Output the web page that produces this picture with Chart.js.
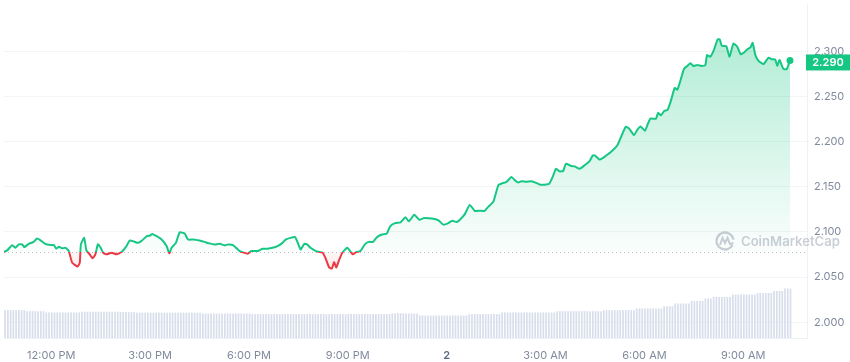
<!DOCTYPE html>
<html>
<head>
<meta charset="utf-8">
<script src="https://cdn.jsdelivr.net/npm/chart.js@4.4.1/dist/chart.umd.min.js"></script>
<style>
  html, body { margin: 0; padding: 0; background: #ffffff; }
  #wrap { width: 850px; height: 362px; position: relative; }
</style>
</head>
<body>
<div id="wrap"><canvas id="priceChart"></canvas></div>
<script>
// minutes after 12:00 PM (day 1)
const times = [
  -86, -80, -71, -65, -59, -53, -49, -41, -32, -26, -20, -11, -1, 5, 9, 14, 20, 26, 32, 38,
  48, 52, 54, 60, 64, 70, 75, 80, 85, 89, 95, 101, 110, 119, 128, 136, 143, 149, 157, 164,
  174, 180, 184, 192, 201, 210, 215, 219, 227, 234, 243, 249, 258, 270, 279, 288, 297, 307, 316, 322,
  331, 343, 358, 364, 376, 385, 394, 403, 412, 421, 427, 444, 454, 461, 466, 472, 482, 494, 499, 506,
  511, 515, 519, 524, 530, 539, 549, 555, 563, 571, 578, 586, 593, 602, 611, 617, 626, 636, 645, 651,
  661, 670, 678, 687, 696, 705, 714, 723, 730, 738, 744, 753, 762, 771, 780, 789, 796, 805, 814, 820,
  829, 838, 844, 850, 856, 865, 874, 883, 889, 901, 907, 913, 919, 925, 932, 937, 947, 953, 962, 971,
  980, 986, 990, 998, 1004, 1013, 1022, 1031, 1037, 1046, 1052, 1061, 1067, 1073, 1081, 1086, 1091, 1101, 1105, 1110,
  1116, 1122, 1128, 1135, 1140, 1146, 1152, 1158, 1164, 1169, 1176, 1185, 1191, 1194, 1200, 1206, 1213, 1217, 1221, 1229,
  1235, 1242, 1249, 1255, 1261, 1267, 1273, 1277, 1282, 1288, 1297, 1306, 1312, 1318, 1322, 1326, 1333, 1339, 1345
];

const prices = [
  2.0781, 2.0796, 2.0854, 2.0824, 2.0862, 2.0862, 2.0832, 2.0868, 2.0890, 2.0927, 2.0909, 2.0868, 2.0854, 2.0854, 2.0814, 2.0835, 2.0818, 2.0824, 2.0788, 2.0660,
  2.0616, 2.0660, 2.0862, 2.0934, 2.0796, 2.0752, 2.0708, 2.0745, 2.0862, 2.0835, 2.0766, 2.0752, 2.0770, 2.0752, 2.0777, 2.0835, 2.0905, 2.0898, 2.0879, 2.0898,
  2.0953, 2.0960, 2.0978, 2.0953, 2.0916, 2.0843, 2.0763, 2.0824, 2.0879, 2.0996, 2.0982, 2.0916, 2.0916, 2.0905, 2.0890, 2.0873, 2.0862, 2.0868, 2.0851, 2.0862,
  2.0854, 2.0788, 2.0759, 2.0788, 2.0788, 2.0814, 2.0814, 2.0824, 2.0843, 2.0879, 2.0916, 2.0942, 2.0807, 2.0868, 2.0862, 2.0824, 2.0788, 2.0770, 2.0715, 2.0605,
  2.0595, 2.0668, 2.0605, 2.0687, 2.0770, 2.0824, 2.0752, 2.0777, 2.0788, 2.0862, 2.0890, 2.0890, 2.0942, 2.0971, 2.0982, 2.1062, 2.1098, 2.1106, 2.1164, 2.1117,
  2.1190, 2.1135, 2.1153, 2.1153, 2.1146, 2.1128, 2.1081, 2.1098, 2.1124, 2.1109, 2.1135, 2.1197, 2.1300, 2.1234, 2.1234, 2.1234, 2.1281, 2.1336, 2.1519, 2.1536,
  2.1555, 2.1610, 2.1573, 2.1547, 2.1562, 2.1555, 2.1562, 2.1544, 2.1525, 2.1525, 2.1536, 2.1610, 2.1700, 2.1672, 2.1675, 2.1755, 2.1730, 2.1727, 2.1700, 2.1738,
  2.1785, 2.1847, 2.1847, 2.1803, 2.1818, 2.1858, 2.1902, 2.1963, 2.2047, 2.2165, 2.2146, 2.2073, 2.2132, 2.2168, 2.2121, 2.2193, 2.2255, 2.2255, 2.2321, 2.2292,
  2.2340, 2.2351, 2.2449, 2.2595, 2.2576, 2.2686, 2.2806, 2.2839, 2.2869, 2.2839, 2.2850, 2.2839, 2.2850, 2.2959, 2.2942, 2.3008, 2.3131, 2.3135, 2.3062, 2.3058,
  2.2942, 2.3088, 2.3052, 2.2970, 2.2986, 2.3022, 2.3044, 2.3095, 2.2959, 2.2894, 2.2861, 2.2931, 2.2912, 2.2912, 2.2839, 2.2905, 2.2806, 2.2803, 2.2900
];

// 24h volume (billions), one bar every 5 minutes
const volumes = [
  5.00, 5.00, 5.00, 5.00, 5.00, 5.00, 5.00, 5.00, 5.00, 4.82, 4.82, 4.82,
  4.82, 4.82, 4.82, 4.82, 4.59, 4.59, 4.59, 4.59, 4.59, 4.59, 4.59, 4.59,
  4.59, 4.59, 4.59, 4.59, 4.59, 4.72, 4.72, 4.72, 4.72, 4.72, 4.72, 4.72,
  4.72, 4.72, 4.72, 4.72, 4.72, 4.72, 4.72, 4.65, 4.65, 4.65, 4.65, 4.65,
  4.65, 4.55, 4.55, 4.55, 4.55, 4.55, 4.55, 4.55, 4.55, 4.55, 4.55, 4.55,
  4.55, 4.55, 4.55, 4.55, 4.55, 4.55, 4.55, 4.55, 4.55, 4.55, 4.55, 4.55,
  4.55, 4.41, 4.41, 4.41, 4.41, 4.41, 4.41, 4.41, 4.41, 4.41, 4.41, 4.41,
  4.41, 4.41, 4.41, 4.41, 4.41, 4.41, 4.41, 4.29, 4.29, 4.29, 4.29, 4.29,
  4.29, 4.29, 4.29, 4.29, 4.29, 4.29, 4.29, 4.29, 4.29, 4.29, 4.29, 4.29,
  4.29, 4.29, 4.29, 4.29, 4.29, 4.29, 4.29, 4.29, 4.29, 4.29, 4.29, 4.29,
  4.29, 4.29, 4.29, 4.29, 4.29, 4.29, 4.29, 4.29, 4.29, 4.29, 4.29, 4.29,
  4.29, 4.29, 4.29, 4.29, 4.29, 4.29, 4.29, 4.29, 4.29, 4.29, 4.46, 4.46,
  4.46, 4.46, 4.41, 4.41, 4.41, 4.41, 4.41, 4.41, 4.05, 4.05, 4.05, 4.05,
  4.05, 4.05, 4.05, 4.05, 4.05, 4.05, 4.05, 4.05, 4.05, 4.05, 4.05, 4.05,
  4.05, 4.05, 4.29, 4.29, 4.29, 4.29, 4.29, 4.29, 4.29, 4.29, 4.29, 4.29,
  4.29, 4.29, 4.59, 4.59, 4.59, 4.59, 4.59, 4.59, 4.59, 4.59, 4.59, 4.59,
  4.59, 4.59, 4.59, 4.59, 4.59, 4.59, 4.59, 4.59, 4.59, 4.59, 4.82, 4.82,
  4.82, 4.82, 4.82, 4.82, 4.82, 4.82, 4.82, 4.82, 4.82, 4.82, 4.82, 4.82,
  4.82, 4.82, 4.82, 5.00, 5.00, 5.00, 5.00, 5.00, 5.00, 5.00, 5.00, 5.00,
  5.00, 5.00, 5.00, 5.30, 5.30, 5.30, 5.30, 5.30, 5.30, 5.30, 5.30, 5.30,
  5.30, 5.71, 5.71, 5.71, 5.71, 6.20, 6.20, 6.20, 6.20, 6.20, 6.20, 6.66,
  6.66, 6.66, 6.66, 6.66, 7.09, 7.09, 7.09, 7.38, 7.38, 7.38, 7.38, 7.38,
  7.38, 7.38, 7.80, 7.80, 7.80, 7.80, 7.80, 7.80, 7.80, 7.80, 7.80, 8.09,
  8.09, 8.09, 8.09, 8.09, 8.09, 8.45, 8.45, 8.45, 8.45, 8.88, 8.88, 8.88
];
const lastBarTime = 1346;

const tickTimes = [0, 180, 360, 540, 720, 900, 1080, 1260];
const tickLabels = ["12:00 PM", "3:00 PM", "6:00 PM", "9:00 PM", "2", "3:00 AM", "6:00 AM", "9:00 AM"];
const priceTicks = [2.0, 2.05, 2.1, 2.15, 2.2, 2.25, 2.3];

const baseValue = prices[0];
const lastPrice = prices[prices.length - 1];

const green = "#16c784";
const red = "#ea3943";
const labelGray = "#808a9d";


// ==========================
// COLOURS SPLIT AT BASELINE
// ==========================

function baseStop(chart) {
    const area = chart.chartArea;
    const yBase = chart.scales.y.getPixelForValue(baseValue);
    return Math.min(Math.max((yBase - area.top) / (area.bottom - area.top), 0), 1);
}

function lineColor(context) {
    const chart = context.chart;
    if (!chart.chartArea) return green;
    const area = chart.chartArea;
    const s = baseStop(chart);
    const g = chart.ctx.createLinearGradient(0, area.top, 0, area.bottom);
    g.addColorStop(0, green);
    g.addColorStop(s, green);
    g.addColorStop(s, red);
    g.addColorStop(1, red);
    return g;
}

function fillColor(context) {
    const chart = context.chart;
    if (!chart.chartArea) return "rgba(22,199,132,0.1)";
    const area = chart.chartArea;
    const s = baseStop(chart);
    const g = chart.ctx.createLinearGradient(0, area.top, 0, area.bottom);
    g.addColorStop(0, "rgba(22,199,132,0.38)");
    g.addColorStop(s, "rgba(22,199,132,0.02)");
    g.addColorStop(s, "rgba(234,57,67,0.03)");
    g.addColorStop(Math.min(s + 0.07, 1), "rgba(234,57,67,0.16)");
    g.addColorStop(1, "rgba(234,57,67,0.16)");
    return g;
}

function isDayLabel(ctx) {
    return ctx && ctx.tick && tickLabels[tickTimes.indexOf(ctx.tick.value)] === "2";
}


// ==========================
// EXTRAS: BASELINE, TAG, MARK
// ==========================

const extrasPlugin = {
    id: "extras",
    beforeDatasetsDraw(chart) {
        const ctx = chart.ctx;
        const area = chart.chartArea;
        const y = Math.round(chart.scales.y.getPixelForValue(baseValue)) + 0.5;
        ctx.save();
        ctx.strokeStyle = "#b8bec9";
        ctx.lineWidth = 1;
        ctx.setLineDash([1, 3]);
        ctx.beginPath();
        ctx.moveTo(area.left, y);
        ctx.lineTo(area.right - 2, y);
        ctx.stroke();
        ctx.restore();
    },
    afterDraw(chart) {
        const ctx = chart.ctx;
        const area = chart.chartArea;

        // watermark
        ctx.save();
        ctx.globalAlpha = 0.42;
        ctx.strokeStyle = labelGray;
        ctx.fillStyle = labelGray;
        ctx.lineWidth = 2.3;
        const cx = 725, cy = 241;
        ctx.beginPath();
        ctx.arc(cx, cy, 8.5, Math.PI * 0.15, Math.PI * 1.95);
        ctx.stroke();
        ctx.lineWidth = 2;
        ctx.beginPath();
        ctx.moveTo(cx - 5, cy + 4);
        ctx.lineTo(cx - 2.5, cy - 3);
        ctx.lineTo(cx, cy + 2);
        ctx.lineTo(cx + 2.5, cy - 3);
        ctx.lineTo(cx + 5, cy + 3);
        ctx.lineTo(cx + 8.5, cy + 2);
        ctx.stroke();
        ctx.font = "600 15px Inter";
        const w = ctx.measureText("CoinMarketCap").width;
        const size = 15 * 99 / w;
        ctx.font = "600 " + size.toFixed(2) + "px Inter";
        ctx.textBaseline = "middle";
        ctx.textAlign = "left";
        ctx.fillText("CoinMarketCap", 741, cy + 1);
        ctx.restore();

        // last price tag
        const yl = chart.scales.y.getPixelForValue(lastPrice);
        ctx.save();
        ctx.fillStyle = green;
        ctx.fillRect(area.right - 1, yl - 6, chart.width - area.right + 1, 16);
        ctx.fillStyle = "#ffffff";
        ctx.font = "600 11px Inter";
        ctx.textAlign = "center";
        ctx.textBaseline = "middle";
        ctx.fillText(lastPrice.toFixed(3), area.right + 21, yl + 2);
        ctx.restore();
    }
};


// ==========================
// CHART
// ==========================

const priceCanvas = document.getElementById("priceChart");

const lineData = times.map((t, i) => ({ x: t, y: prices[i] }));
const barData = volumes.map((v, i) => ({ x: lastBarTime - 5 * (volumes.length - 1 - i), y: v }));

new Chart(priceCanvas, {

    data: {

        datasets: [

            {
                type: "bar",
                data: barData,
                yAxisID: "vol",
                backgroundColor: "#d8deec",
                barPercentage: 0.62,
                categoryPercentage: 1,
                order: 2
            },

            {
                type: "line",
                data: lineData,
                yAxisID: "y",
                borderColor: lineColor,
                backgroundColor: fillColor,
                borderWidth: 2,
                tension: 0.15,
                fill: { target: { value: baseValue } },
                pointRadius: ctx => ctx.dataIndex === prices.length - 1 ? 3.5 : 0,
                pointBackgroundColor: green,
                pointBorderWidth: 0,
                order: 1
            }

        ]

    },

    options: {

        responsive: true,
        maintainAspectRatio: false,
        animation: false,
        layout: { padding: 0 },

        plugins: {
            legend: { display: false },
            tooltip: { enabled: false }
        },

        scales: {

            x: {
                type: "linear",
                offset: false,
                min: -86,
                max: 1376,
                afterBuildTicks: scale => {
                    scale.ticks = tickTimes.map(v => ({ value: v }));
                },
                afterFit: scale => {
                    scale.height = 24;
                    scale.paddingLeft = 0;
                    scale.paddingRight = 0;
                },
                grid: { display: false, offset: false },
                border: { display: true, color: "#eff2f5" },
                ticks: {
                    autoSkip: false,
                    maxRotation: 0,
                    padding: 3,
                    color: ctx => isDayLabel(ctx) ? "#58667e" : labelGray,
                    font: ctx => ({
                        family: "Inter",
                        size: 11,
                        weight: isDayLabel(ctx) ? "600" : "400"
                    }),
                    callback: value => tickLabels[tickTimes.indexOf(value)]
                }
            },

            y: {
                position: "right",
                min: 1.98248,
                max: 2.35256,
                afterBuildTicks: scale => {
                    scale.ticks = priceTicks.map(v => ({ value: v }));
                },
                afterFit: scale => {
                    scale.width = 43;
                    scale.paddingTop = 0;
                    scale.paddingBottom = 0;
                },
                grid: { color: "#f3f4f6", drawTicks: false },
                border: { display: true, color: "#eff2f5" },
                ticks: {
                    padding: 7,
                    color: labelGray,
                    font: { family: "Inter", size: 11 },
                    callback: value => value.toFixed(3)
                }
            },

            vol: {
                display: false,
                min: 0,
                max: 60
            }

        }

    },

    plugins: [extrasPlugin]

});
</script>
</body>
</html>
